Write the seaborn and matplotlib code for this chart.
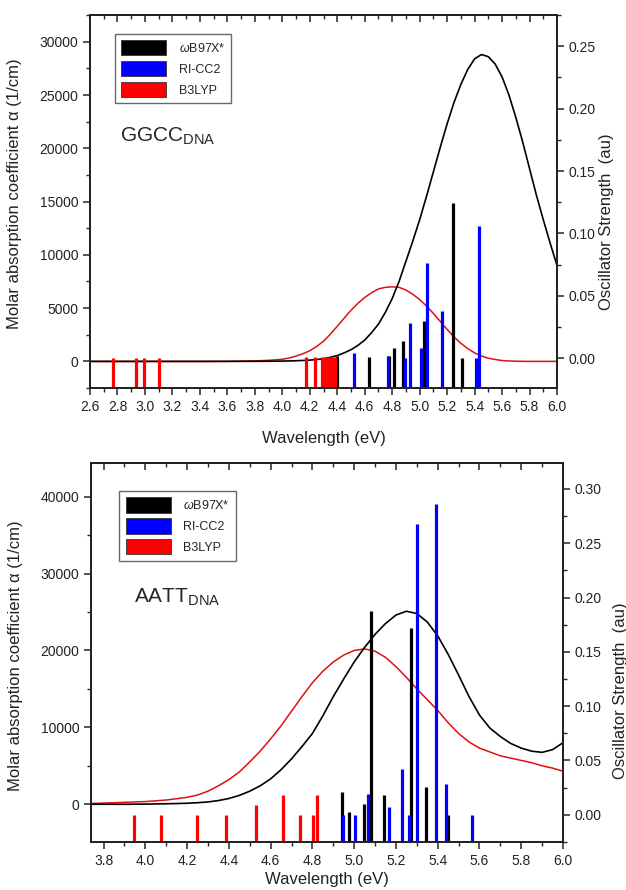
import matplotlib
matplotlib.use("Agg")
import matplotlib.pyplot as plt
import seaborn as sns
import numpy as np
from matplotlib.patches import Patch
from matplotlib.ticker import MultipleLocator, FormatStrFormatter

# ---------------- GGCC (top panel) ----------------
# stick spectra: excitation energy (eV) / oscillator strength (au)
ggcc_wb97_x = [4.40, 4.63, 4.78, 4.81, 4.88, 5.03, 5.24, 5.31]
ggcc_wb97_f = [0.002, 0.0005, 0.002, 0.008, 0.014, 0.030, 0.124, 0.0]
ggcc_cc2_x = [4.52, 4.77, 4.89, 4.93, 5.01, 5.05, 5.16, 5.41, 5.43]
ggcc_cc2_f = [0.004, 0.002, 0.0, 0.028, 0.008, 0.076, 0.038, 0.0, 0.106]
ggcc_b3_x = [2.77, 2.935, 2.99, 3.10, 4.17, 4.24, 4.29, 4.31, 4.32, 4.34, 4.36, 4.38]
ggcc_b3_f = [0.0, 0.0, 0.0, 0.0, 0.001, 0.001, 0.001, 0.001, 0.001, 0.001, 0.001, 0.001]

# broadened spectra: energy (eV) / molar absorption (1/cm)
ggcc_curve_x = [2.6, 3.0, 3.4, 3.6, 3.8, 3.9, 4.0, 4.05, 4.1, 4.15, 4.2, 4.25, 4.3, 4.35,
                4.4, 4.45, 4.5, 4.55, 4.6, 4.65, 4.7, 4.75, 4.8, 4.85, 4.9, 4.95, 5.0,
                5.05, 5.1, 5.15, 5.2, 5.25, 5.3, 5.35, 5.4, 5.45, 5.5, 5.55, 5.6, 5.65,
                5.7, 5.75, 5.8, 5.85, 5.9, 5.95, 6.0]
ggcc_wb97_curve = [0, 0, 0, 0, 10, 20, 30, 45, 60, 90, 120, 180, 250, 380,
                   550, 800, 1100, 1500, 2000, 2700, 3500, 4600, 5900, 7500, 9400, 11300, 13300,
                   15500, 17800, 20100, 22300, 24300, 26000, 27400, 28400, 28800, 28600, 27900, 26700, 25000,
                   22900, 20600, 18100, 15600, 13300, 11100, 9000]
ggcc_b3_curve = [0, 0, 0, 10, 50, 100, 200, 320, 500, 720, 1000, 1400, 1900, 2550,
                 3300, 4050, 4800, 5450, 6000, 6450, 6800, 6950, 7000, 6950, 6700, 6300, 5800,
                 5200, 4500, 3750, 3000, 2300, 1700, 1200, 800, 500, 300, 180, 80, 40,
                 20, 5, 0, 0, 0, 0, 0]

# ---------------- AATT (bottom panel) ----------------
aatt_wb97_x = [4.94, 4.975, 5.045, 5.08, 5.145, 5.272, 5.342, 5.45]
aatt_wb97_f = [0.021, 0.003, 0.010, 0.188, 0.018, 0.172, 0.026, 0.0]
aatt_cc2_x = [4.945, 5.005, 5.066, 5.167, 5.228, 5.262, 5.30, 5.39, 5.44, 5.564]
aatt_cc2_f = [0.0, 0.0, 0.019, 0.007, 0.042, 0.0, 0.268, 0.286, 0.0285, 0.0]
aatt_b3_x = [3.945, 4.076, 4.247, 4.386, 4.531, 4.659, 4.741, 4.804, 4.821]
aatt_b3_f = [0.0, 0.0, 0.0, 0.0, 0.009, 0.018, 0.0, 0.0, 0.018]

aatt_curve_x = [3.74, 3.8, 3.9, 4.0, 4.1, 4.2, 4.25, 4.3, 4.35, 4.4, 4.45, 4.5, 4.55,
                4.6, 4.65, 4.7, 4.75, 4.8, 4.85, 4.9, 4.95, 5.0, 5.05, 5.1, 5.15, 5.2,
                5.25, 5.3, 5.35, 5.4, 5.45, 5.5, 5.55, 5.6, 5.65, 5.7, 5.75, 5.8, 5.85,
                5.9, 5.95, 6.0]
aatt_wb97_curve = [0, 0, 0, 20, 60, 130, 200, 300, 480, 750, 1150, 1700, 2400,
                   3300, 4500, 5900, 7500, 9200, 11500, 14000, 16300, 18500, 20400, 22100, 23500, 24600,
                   25100, 24800, 23700, 21900, 19500, 16800, 14000, 11600, 9900, 8800, 7900, 7300, 6900,
                   6750, 7100, 8000]
aatt_b3_curve = [100, 150, 250, 350, 550, 900, 1200, 1700, 2400, 3200, 4200, 5500, 6900,
                 8500, 10200, 12100, 14000, 15800, 17300, 18500, 19400, 20000, 20200, 19900, 19100, 17900,
                 16500, 15000, 13600, 12200, 10600, 9200, 8100, 7300, 6800, 6300, 6000, 5700, 5400,
                 5000, 4700, 4300]

method_names = ["$\\omega$B97X*", "RI-CC2", "B3LYP"]
method_colors = ["#000000", "#0000ff", "#ff0000"]

sns.set_style("ticks")
plt.rcParams["font.family"] = ["Liberation Sans", "DejaVu Sans"]
plt.rcParams["mathtext.fontset"] = "custom"
plt.rcParams["mathtext.rm"] = "Liberation Sans"
plt.rcParams["mathtext.it"] = "Liberation Sans:italic"
plt.rcParams["axes.linewidth"] = 1.3
plt.rcParams["axes.edgecolor"] = "#222222"

fig = plt.figure(figsize=(6.26, 8.9), dpi=100)


def draw_panel(rect, xlim, ylim, ylim2, xcurve, wb97_curve, b3_curve, sticks,
               ymaj, ymin, fmaj, f_top, name, leg_anchor, name_pos, lab_pos):
    ax = fig.add_axes(rect)
    sns.lineplot(x=xcurve, y=b3_curve, ax=ax, color="#e01010", lw=1.1)
    sns.lineplot(x=xcurve, y=wb97_curve, ax=ax, color="black", lw=1.2)
    ax.set_xlim(*xlim)
    ax.set_ylim(*ylim)
    ax2 = ax.twinx()
    ax2.set_ylim(*ylim2)
    for (xs, fs), col in zip(sticks, method_colors):
        ax2.vlines(xs, ylim2[0], fs, color=col, lw=2.3)

    ax.xaxis.set_major_locator(MultipleLocator(0.2))
    ax.xaxis.set_minor_locator(MultipleLocator(0.1))
    ax.xaxis.set_major_formatter(FormatStrFormatter("%.1f"))
    ax.yaxis.set_major_locator(MultipleLocator(ymaj))
    ax.yaxis.set_minor_locator(MultipleLocator(ymin))
    ax.set_yticks(np.arange(0, f_top[0] + 1, ymaj))
    ax2.set_yticks(np.round(np.arange(0, f_top[1] + 1e-6, fmaj), 2))
    ax2.yaxis.set_minor_locator(MultipleLocator(fmaj / 2))
    ax2.yaxis.set_major_formatter(FormatStrFormatter("%.2f"))

    ax.tick_params(axis="both", which="major", direction="out", length=5, width=1.1,
                   labelsize=10, labelcolor="#222222")
    ax.tick_params(axis="both", which="minor", direction="out", length=3, width=1.0)
    ax2.tick_params(axis="y", which="major", direction="out", length=5, width=1.1,
                    labelsize=10, labelcolor="#222222")
    ax2.tick_params(axis="y", which="minor", direction="out", length=3, width=1.0)
    top = ax.secondary_xaxis("top")
    top.xaxis.set_major_locator(MultipleLocator(0.2))
    top.xaxis.set_minor_locator(MultipleLocator(0.1))
    top.tick_params(which="major", direction="in", length=5, width=1.1, labeltop=False)
    top.tick_params(which="minor", direction="in", length=3, width=1.0)

    ax.set_xlabel("Wavelength (eV)", fontsize=12, color="#222222")
    ax.set_ylabel("Molar absorption coefficient \u03b1 (1/cm)", fontsize=12, color="#222222")
    ax2.set_ylabel("Oscillator Strength  (au)", fontsize=12, color="#222222")
    ax.xaxis.set_label_coords(0.5, lab_pos[0])
    ax.yaxis.set_label_coords(lab_pos[1], lab_pos[2])
    ax2.yaxis.set_label_coords(lab_pos[3], lab_pos[4])

    handles = [Patch(facecolor=c, edgecolor="#333333", lw=0.6) for c in method_colors]
    ax2.legend(handles, method_names, loc="upper left", bbox_to_anchor=leg_anchor,
               fontsize=9, frameon=True, fancybox=False, edgecolor="#444444",
               handlelength=3.6, handleheight=1.5, borderpad=0.5, labelspacing=0.45,
               handletextpad=1.0, borderaxespad=0)
    ax2.text(name_pos[0], name_pos[1], "$\\mathregular{" + name + "_{DNA}}$",
             transform=ax.transAxes, fontsize=15, ha="left", va="baseline")
    return ax, ax2


draw_panel([0.1438, 0.564, 0.746, 0.419], (2.6, 6.0), (-2500, 32500), (-0.024, 0.275),
           ggcc_curve_x, ggcc_wb97_curve, ggcc_b3_curve,
           [(ggcc_wb97_x, ggcc_wb97_f), (ggcc_cc2_x, ggcc_cc2_f), (ggcc_b3_x, ggcc_b3_f)],
           5000, 2500, 0.05, (30000, 0.25), "GGCC", (0.053, 0.95), (0.065, 0.66),
           (-0.115, -0.145, 0.52, 1.09, 0.445))

draw_panel([0.1454, 0.054, 0.754, 0.426], (3.74, 6.0), (-4900, 44400), (-0.025, 0.324),
           aatt_curve_x, aatt_wb97_curve, aatt_b3_curve,
           [(aatt_wb97_x, aatt_wb97_f), (aatt_cc2_x, aatt_cc2_f), (aatt_b3_x, aatt_b3_f)],
           10000, 5000, 0.05, (40000, 0.30), "AATT", (0.06, 0.925), (0.09, 0.63),
           (-0.08, -0.145, 0.49, 1.105, 0.40))

fig.savefig("out.png", dpi=100)
